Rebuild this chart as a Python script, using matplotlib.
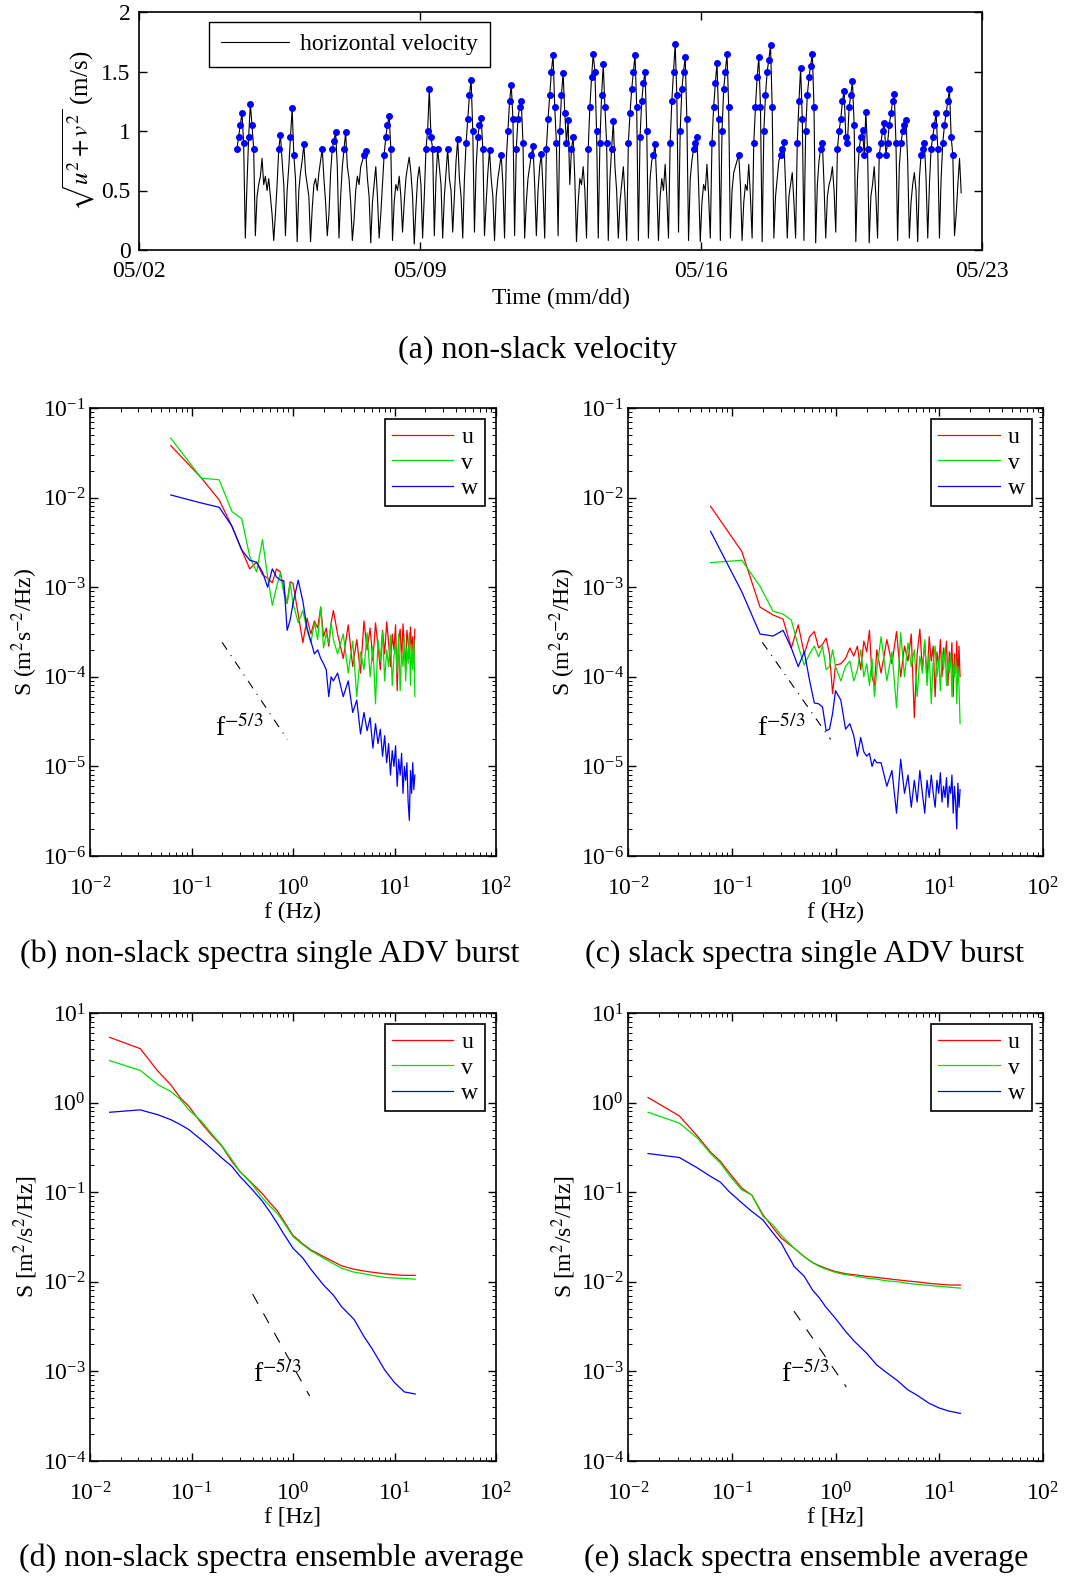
import numpy as np
import matplotlib
matplotlib.use('Agg')
import matplotlib.pyplot as plt
from matplotlib.ticker import LogLocator, NullFormatter, FixedLocator, FixedFormatter

plt.rcParams['font.family'] = ['Liberation Serif', 'DejaVu Serif']
plt.rcParams['mathtext.fontset'] = 'stix'
plt.rcParams['axes.linewidth'] = 1.2

# ---------------- (a) hourly horizontal speed (m/s) from 05/04 10:30 ----------------
start_day = 2.44          # days after 05/02 00:00
speed = [
 0.85, 0.95, 1.05, 1.15, 0.90, 0.10, 0.55, 0.95, 1.23, 1.05, 0.85, 0.12, 0.45, 0.55, 0.62, 0.77, 0.55, 0.62, 0.50, 0.60, 0.45, 0.30, 0.08, 0.30,
 0.55, 0.85, 0.97, 0.75, 0.55, 0.12, 0.50, 0.70, 0.95, 1.19, 0.80, 0.60, 0.07, 0.50, 0.65, 0.75, 0.89, 0.65, 0.55, 0.45, 0.07, 0.35, 0.55, 0.60,
 0.50, 0.65, 0.75, 0.85, 0.60, 0.40, 0.12, 0.30, 0.65, 0.85, 0.92, 0.99, 0.70, 0.10, 0.45, 0.70, 0.85, 0.99, 0.70, 0.60, 0.40, 0.08, 0.25, 0.50,
 0.62, 0.55, 0.70, 0.75, 0.80, 0.83, 0.60, 0.45, 0.06, 0.40, 0.55, 0.70, 0.45, 0.10, 0.30, 0.55, 0.80, 0.95, 1.05, 1.13, 0.85, 0.08, 0.40, 0.55,
 0.50, 0.62, 0.45, 0.15, 0.40, 0.60, 0.70, 0.78, 0.65, 0.45, 0.05, 0.35, 0.60, 0.70, 0.55, 0.10, 0.45, 0.85, 1.00, 1.35, 0.95, 0.85, 0.12, 0.60,
 0.85, 0.70, 0.55, 0.10, 0.45, 0.65, 0.85, 0.60, 0.50, 0.15, 0.45, 0.75, 0.93, 0.60, 0.45, 0.10, 0.60, 0.90, 1.10, 1.30, 1.43, 1.00, 0.15, 0.70,
 0.95, 1.05, 1.11, 0.85, 0.12, 0.40, 0.65, 0.84, 0.60, 0.45, 0.08, 0.45, 0.60, 0.70, 0.80, 0.55, 0.10, 0.75, 1.00, 1.25, 1.39, 1.10, 0.12, 0.85,
 1.10, 1.20, 1.25, 0.90, 0.10, 0.40, 0.60, 0.70, 0.80, 0.87, 0.55, 0.12, 0.50, 0.70, 0.81, 0.50, 0.10, 0.85, 1.10, 1.30, 1.50, 1.64, 1.20, 0.90,
 0.12, 1.00, 1.30, 1.49, 1.15, 0.90, 1.09, 0.55, 0.85, 0.95, 0.60, 0.07, 0.40, 0.60, 0.55, 0.70, 0.50, 0.10, 0.85, 1.20, 1.45, 1.65, 1.50, 1.00,
 0.10, 0.90, 1.30, 1.56, 1.20, 0.90, 0.08, 0.60, 0.85, 1.08, 0.70, 0.50, 0.10, 0.40, 0.55, 0.70, 0.45, 0.08, 0.90, 1.15, 1.35, 1.50, 1.64, 1.20,
 0.08, 0.95, 1.25, 1.40, 1.50, 1.00, 0.10, 0.60, 0.75, 0.80, 0.89, 0.55, 0.08, 0.45, 0.60, 0.50, 0.72, 0.45, 0.10, 0.90, 1.25, 1.50, 1.73, 1.30,
 0.15, 1.00, 1.35, 1.50, 1.62, 1.10, 0.08, 0.60, 0.75, 0.85, 0.90, 0.95, 0.55, 0.07, 0.40, 0.55, 0.50, 0.72, 0.45, 0.10, 0.90, 1.20, 1.40, 1.57,
 1.10, 0.08, 1.00, 1.35, 1.50, 1.65, 1.20, 0.10, 0.50, 0.65, 0.70, 0.75, 0.80, 0.55, 0.08, 0.40, 0.55, 0.50, 0.72, 0.45, 0.10, 0.90, 1.20, 1.45,
 1.62, 1.20, 0.07, 1.00, 1.30, 1.50, 1.60, 1.72, 1.20, 0.10, 0.45, 0.60, 0.75, 0.80, 0.85, 0.91, 0.55, 0.10, 0.45, 0.55, 0.65, 0.40, 0.10, 0.90,
 1.25, 1.53, 1.10, 0.08, 1.00, 1.30, 1.45, 1.55, 1.65, 1.20, 0.06, 0.55, 0.75, 0.85, 0.90, 0.55, 0.10, 0.45, 0.55, 0.60, 0.70, 0.50, 0.15, 0.85,
 1.00, 1.10, 1.25, 1.34, 0.95, 0.90, 1.20, 1.30, 1.42, 1.05, 0.07, 0.60, 0.85, 0.95, 1.01, 0.80, 1.16, 0.85, 0.06, 0.45, 0.55, 0.70, 0.45, 0.10,
 0.80, 0.90, 1.00, 1.07, 0.80, 0.90, 1.05, 1.15, 1.25, 1.31, 0.90, 0.08, 0.70, 0.90, 1.00, 1.05, 1.09, 0.75, 0.10, 0.40, 0.55, 0.65, 0.50, 0.07,
 0.60, 0.80, 0.85, 0.90, 0.60, 0.10, 0.55, 0.85, 0.95, 1.05, 1.15, 0.85, 0.10, 0.60, 0.90, 1.05, 1.15, 1.25, 1.35, 0.95, 0.80, 0.12, 0.30, 0.55,
 0.77, 0.48,
]
nonslack_threshold = 0.8
date_ticks = [0, 7, 14, 21]
date_labels = ['05/02', '05/09', '05/16', '05/23']
speed_yticks = [0, 0.5, 1, 1.5, 2]
speed_ylabels = ['0', '0.5', '1', '1.5', '2']

# ---------------- (b),(c) single-burst spectra ----------------
df_burst = 0.0625
k_burst = list(range(1, 17)) + list(range(18, 41, 2)) + list(range(44, 257, 6))

b_u = [0.038, 0.0166, 0.0094, 0.0048, 0.0026, 0.0016, 0.0019, 0.00138, 0.00126, 0.00112, 0.0016, 0.00148, 0.00093, 0.00066, 0.00115, 0.0011,
       0.0005, 0.00024, 0.00045, 0.00030, 0.00042, 0.00035, 0.0006, 0.00028, 0.00035, 0.00022, 0.00040, 0.00055,
       3.0e-4, 1.6e-4, 3.8e-4, 1.3e-4, 2.6e-4, 1.1e-4, 4.2e-4, 2.0e-4, 3.5e-4, 1.5e-4, 4.0e-4, 2.2e-4, 1.2e-4, 3.3e-4, 1.8e-4, 4.1e-4, 2.4e-4, 1.3e-4,
       3.0e-4, 2.0e-4, 3.8e-4, 7e-5, 2.6e-4, 3.4e-4, 1.5e-4, 3.9e-4, 2.2e-4, 1.2e-4, 3.3e-4, 2.5e-4, 1.6e-4, 3.6e-4, 2.0e-4, 2.8e-4, 1.4e-4, 3.4e-4]
b_v = [0.046, 0.0165, 0.0158, 0.0070, 0.0058, 0.0022, 0.00148, 0.0034, 0.00131, 0.00063, 0.001, 0.00144, 0.00085, 0.00066, 0.0011, 0.00066,
       0.0004, 0.00055, 0.00033, 0.00024, 0.0004, 0.00026, 0.0006, 0.00021, 0.00030, 0.00024, 0.00040, 0.00026,
       1.8e-4, 3.0e-4, 1.1e-4, 2.5e-4, 6e-5, 1.9e-4, 1.2e-4, 3.1e-4, 1.0e-4, 2.2e-4, 5e-5, 2.6e-4, 1.5e-4, 3.2e-4, 9e-5, 2.0e-4, 1.3e-4, 2.9e-4,
       8e-5, 1.7e-4, 2.4e-4, 1.1e-4, 3.0e-4, 7e-5, 1.9e-4, 1.3e-4, 2.7e-4, 9e-5, 2.1e-4, 1.4e-4, 3.1e-4, 8e-5, 2.3e-4, 1.2e-4, 2.6e-4, 6e-5]
b_w = [0.0107, 0.0087, 0.0078, 0.0048, 0.0026, 0.0020, 0.0019, 0.00148, 0.001, 0.0016, 0.0013, 0.0012, 0.00118, 0.00033, 0.00043, 0.00066,
       0.0012, 0.0007, 0.00035, 0.00025, 0.00018, 0.00020, 0.00016, 0.00014, 0.00012, 0.00006, 0.00010, 0.00009,
       1.1e-4, 6e-5, 9e-5, 4e-5, 5.5e-5, 2.3e-5, 4e-5, 2.5e-5, 3.5e-5, 1.6e-5, 3e-5, 1.8e-5, 2.6e-5, 1.3e-5, 2.2e-5, 1.1e-5, 1.8e-5, 8e-6,
       1.5e-5, 1.0e-5, 1.7e-5, 6e-6, 1.2e-5, 8e-6, 1.4e-5, 5e-6, 1.0e-5, 7e-6, 1.1e-5, 4e-6, 2.5e-6, 9e-6, 5e-6, 1.1e-5, 5.5e-6, 8e-6]

c_u = [0.0080, 0.0025, 0.0006, 0.00049, 0.00044, 0.00021, 0.00038, 0.00018, 0.00028, 0.00032, 0.00021, 0.00023, 0.00027, 0.00018, 0.000065, 0.000135,
       1.4e-4, 1.6e-4, 2.1e-4, 1.7e-4, 2.2e-4, 1.2e-4, 2.5e-4, 1.9e-4, 3.3e-4, 1.0e-4, 8e-5, 2.0e-4,
       1.1e-4, 2.6e-4, 1.4e-4, 3.2e-4, 1.0e-4, 2.2e-4, 1.5e-4, 3.0e-4, 3.5e-5, 1.8e-4, 3.4e-4, 1.2e-4, 2.4e-4, 9e-5, 2.8e-4, 1.5e-4, 2.2e-4, 6e-5,
       1.9e-4, 1.3e-4, 2.6e-4, 1.0e-4, 2.1e-4, 1.6e-4, 2.5e-4, 8e-5, 1.9e-4, 1.3e-4, 2.4e-4, 6e-5, 1.8e-4, 1.1e-4, 2.5e-4, 9e-5, 2.2e-4, 1.0e-4]
c_v = [0.00188, 0.0020, 0.00102, 0.00054, 0.00050, 0.00043, 0.00022, 0.000135, 0.00018, 0.00022, 0.000167, 0.00022, 0.00012, 0.00013, 0.0002, 0.00013,
       9e-5, 1.3e-4, 1.5e-4, 9e-5, 1.2e-4, 2.0e-4, 1.0e-4, 1.4e-4, 8e-5, 1.6e-4, 6e-5, 1.2e-4,
       2.8e-4, 9e-5, 1.9e-4, 4.5e-5, 3.1e-4, 1.0e-4, 2.4e-4, 1.3e-4, 2.0e-4, 6e-5, 1.7e-4, 1.1e-4, 2.6e-4, 8e-5, 1.8e-4, 5e-5, 1.5e-4, 2.2e-4,
       1.0e-4, 1.6e-4, 7e-5, 1.9e-4, 1.2e-4, 2.1e-4, 8e-5, 1.5e-4, 1.1e-4, 1.8e-4, 6e-5, 1.4e-4, 1.0e-4, 1.7e-4, 5e-5, 1.3e-4, 8e-5, 3e-5]
c_w = [0.0042, 0.00089, 0.0003, 0.000285, 0.00033, 0.00021, 0.00013, 0.00019, 0.000091, 0.000051, 0.00005, 0.000046, 0.000025, 0.000026, 0.000039, 0.00007,
       5.5e-5, 2.6e-5, 3.0e-5, 2.2e-5, 1.3e-5, 2.1e-5, 1.45e-5, 1.3e-5, 1.4e-5, 1.0e-5, 1.2e-5, 1.1e-5,
       1.1e-5, 6e-6, 9e-6, 3e-6, 1.2e-5, 5e-6, 8e-6, 3.5e-6, 7e-6, 4e-6, 9e-6, 5e-6, 3e-6, 7e-6, 4.5e-6, 8e-6, 5e-6, 3.5e-6,
       7e-6, 5e-6, 8.5e-6, 4e-6, 6e-6, 4.5e-6, 7.5e-6, 3.5e-6, 6e-6, 5e-6, 8e-6, 3e-6, 6e-6, 4e-6, 2e-6, 6.5e-6, 3.5e-6, 5.5e-6]

# ---------------- (d),(e) ensemble-averaged spectra ----------------
f_ens = [0.0156, 0.03125, 0.0469, 0.0625, 0.078, 0.094, 0.125, 0.156, 0.2, 0.25, 0.3, 0.4, 0.5, 0.6, 0.7, 0.8,
         1.0, 1.25, 1.5, 2, 2.5, 3, 4, 5, 6, 8, 10, 12.5, 16]
d_u = [5.35, 4.0, 2.23, 1.58, 1.12, 0.91, 0.59, 0.44, 0.324, 0.22, 0.17, 0.124, 0.096, 0.075, 0.062, 0.049,
       0.033, 0.0265, 0.0227, 0.0191, 0.0168, 0.0151, 0.0138, 0.0132, 0.0128, 0.0123, 0.0120, 0.0118, 0.0118]
d_v = [2.94, 2.29, 1.58, 1.33, 1.08, 0.83, 0.62, 0.457, 0.33, 0.23, 0.17, 0.121, 0.086, 0.069, 0.058, 0.047,
       0.032, 0.0259, 0.0222, 0.0184, 0.0159, 0.0142, 0.0128, 0.0123, 0.0118, 0.0112, 0.0110, 0.0109, 0.0107]
d_w = [0.78, 0.83, 0.73, 0.645, 0.567, 0.50, 0.385, 0.31, 0.24, 0.194, 0.150, 0.106, 0.079, 0.059, 0.045, 0.035,
       0.0237, 0.0184, 0.0138, 0.0092, 0.0071, 0.0053, 0.0038, 0.00245, 0.0018, 0.00104, 0.00075, 0.00059, 0.00056]
e_u = [1.14, 0.71, 0.42, 0.28, 0.22, 0.166, 0.111, 0.093, 0.056, 0.040, 0.0307, 0.0237, 0.0191, 0.0164, 0.0151, 0.0142,
       0.0130, 0.0123, 0.0120, 0.0115, 0.0112, 0.0109, 0.0105, 0.0102, 0.0100, 0.0096, 0.0094, 0.0092, 0.0092]
e_v = [0.78, 0.59, 0.40, 0.27, 0.21, 0.156, 0.106, 0.093, 0.054, 0.043, 0.033, 0.0237, 0.019, 0.0164, 0.0148, 0.0139,
       0.0127, 0.0120, 0.0117, 0.0110, 0.0107, 0.0103, 0.0100, 0.0096, 0.0094, 0.0091, 0.0089, 0.0087, 0.0085]
e_w = [0.27, 0.244, 0.186, 0.150, 0.129, 0.102, 0.076, 0.061, 0.049, 0.035, 0.027, 0.0148, 0.0115, 0.0081, 0.0066, 0.0053,
       0.0039, 0.0028, 0.0022, 0.00159, 0.00118, 0.00100, 0.00078, 0.00062, 0.00055, 0.00044, 0.00039, 0.00036, 0.00034]

# -5/3 reference segments (f, S endpoints) and label anchors
ref_b = ([0.20, 0.88], [2.43e-4, 2.0e-5])
ref_c = ([0.197, 0.897], [2.43e-4, 2.0e-5])
ref_d = ([0.40, 1.46], [7.3e-3, 5.3e-4])
ref_e = ([0.398, 1.27], [4.7e-3, 6.7e-4])
lab_b = (0.172, 2.2e-5)
lab_c = (0.175, 2.2e-5)
lab_d = (0.40, 7.7e-4)
lab_e = (0.30, 7.7e-4)

component_labels = ['u', 'v', 'w']
component_colors = ['#ff0000', '#00e000', '#0000ff']

# ---------------- figure ----------------
W, H = 1067, 1579
fig = plt.figure(figsize=(W / 100, H / 100), dpi=100)


def box(l, t, r, b):
    return [l / W, 1 - b / H, (r - l) / W, (b - t) / H]


# (a)
ax = fig.add_axes(box(139, 12, 982, 250))
t = start_day + np.arange(len(speed)) / 24.0
s = np.array(speed)
ax.plot(t, s, color='k', lw=0.8, label='horizontal velocity')
m = s >= nonslack_threshold
ax.plot(t[m], s[m], 'o', color='#0000ff', ms=4, mec='#0000ff', ls='none')
ax.set_xlim(0, 21)
ax.set_ylim(0, 2)
ax.xaxis.set_major_locator(FixedLocator(date_ticks))
ax.xaxis.set_major_formatter(FixedFormatter(date_labels))
ax.yaxis.set_major_locator(FixedLocator(speed_yticks))
ax.yaxis.set_major_formatter(FixedFormatter(speed_ylabels))
ax.tick_params(direction='in', top=True, right=True, length=6, width=1, labelsize=17)
ax.tick_params(axis='x', pad=8)
ax.tick_params(axis='y', pad=6)
ax.set_xlabel('Time (mm/dd)', fontsize=17, labelpad=4)
ax.set_ylabel(r'$\sqrt{u^2+v^2}$ (m/s)', fontsize=18, labelpad=3)
leg = ax.legend(loc='upper left', bbox_to_anchor=(0.083, 0.958), borderaxespad=0, fontsize=17,
                handlelength=2.9, frameon=True, fancybox=False, framealpha=1, edgecolor='k',
                borderpad=0.5, handletextpad=0.45)
leg.get_frame().set_linewidth(1.0)


def spec_panel(rect, fx, series, ylim, ylabel, xlabel, ref, lab, refstyle):
    ax = fig.add_axes(rect)
    for y, lbl, c in zip(series, component_labels, component_colors):
        ax.loglog(fx, y, color=c, lw=0.9, label=lbl)
    ax.loglog(ref[0], ref[1], color='k', lw=0.8, ls=refstyle)
    ax.text(lab[0], lab[1], r'f$^{-5/3}$', fontsize=20, ha='left', va='baseline')
    ax.set_xlim(1e-2, 1e2)
    ax.set_ylim(*ylim)
    ax.xaxis.set_major_locator(LogLocator(base=10, numticks=10))
    ax.yaxis.set_major_locator(LogLocator(base=10, numticks=10))
    ax.xaxis.set_minor_locator(LogLocator(base=10, subs=np.arange(2, 10), numticks=10))
    ax.yaxis.set_minor_locator(LogLocator(base=10, subs=np.arange(2, 10), numticks=10))
    ax.xaxis.set_minor_formatter(NullFormatter())
    ax.yaxis.set_minor_formatter(NullFormatter())
    ax.tick_params(which='major', direction='in', top=True, right=True, length=6, width=1, labelsize=17)
    ax.tick_params(which='minor', direction='in', top=True, right=True, length=3, width=0.7)
    ax.tick_params(axis='x', which='major', pad=15)
    ax.tick_params(axis='y', which='major', pad=3)
    ax.set_xlabel(xlabel, fontsize=17, labelpad=1)
    ax.set_ylabel(ylabel, fontsize=17, labelpad=2)
    leg = ax.legend(loc='upper right', bbox_to_anchor=(0.974, 0.975), borderaxespad=0, fontsize=17,
                    handlelength=2.6, frameon=True, fancybox=False, framealpha=1, edgecolor='k',
                    borderpad=0.3, handletextpad=0.35, labelspacing=0.18)
    leg.get_frame().set_linewidth(1.2)
    return ax


f_b = np.array(k_burst) * df_burst
dashdot = (0, (8, 6, 1, 6))
dashed = (0, (10, 10))
spec_panel(box(90, 408, 496, 856), f_b, [b_u, b_v, b_w], (1e-6, 1e-1),
           r'S (m$^2$s$^{-2}$/Hz)', 'f (Hz)', ref_b, lab_b, dashdot)
spec_panel(box(628, 408, 1043, 856), f_b, [c_u, c_v, c_w], (1e-6, 1e-1),
           r'S (m$^2$s$^{-2}$/Hz)', 'f (Hz)', ref_c, lab_c, dashdot)
spec_panel(box(90, 1013, 496, 1461), f_ens, [d_u, d_v, d_w], (1e-4, 1e1),
           r'S [m$^2$/s$^2$/Hz]', 'f [Hz]', ref_d, lab_d, dashed)
spec_panel(box(628, 1013, 1043, 1461), f_ens, [e_u, e_v, e_w], (1e-4, 1e1),
           r'S [m$^2$/s$^2$/Hz]', 'f [Hz]', ref_e, lab_e, dashed)

captions = [
    (538, 350, '(a) non-slack velocity'),
    (270, 954, '(b) non-slack spectra single ADV burst'),
    (805, 954, '(c) slack spectra single ADV burst'),
    (271, 1558, '(d) non-slack spectra ensemble average'),
    (806, 1558, '(e) slack spectra ensemble average'),
]
for x, y, txt in captions:
    fig.text(x / W, 1 - y / H, txt, ha='center', va='center', fontsize=23)

fig.savefig('out.png', dpi=100)
